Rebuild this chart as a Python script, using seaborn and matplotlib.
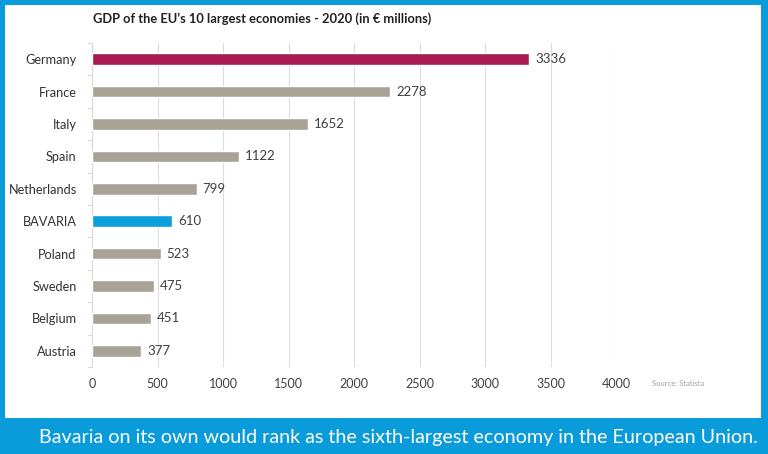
import matplotlib
matplotlib.use("Agg")
import matplotlib.pyplot as plt
import seaborn as sns
import pandas as pd
from matplotlib.patches import Rectangle

countries = ["Germany", "France", "Italy", "Spain", "Netherlands", "BAVARIA",
             "Poland", "Sweden", "Belgium", "Austria"]
gdp = [3336, 2278, 1652, 1122, 799, 610, 523, 475, 451, 377]
bar_colors = ["#A71A52", "#A9A397", "#A9A397", "#A9A397", "#A9A397", "#0B9FDB",
              "#A9A397", "#A9A397", "#A9A397", "#A9A397"]
x_ticks = [0, 500, 1000, 1500, 2000, 2500, 3000, 3500, 4000]
title = "GDP of the EU\u2019s 10 largest economies - 2020 (in \u20ac millions)"
source = "Source: Statista"
caption = "Bavaria on its own would rank as the sixth-largest economy in the European Union."

sns.set_theme(style="white")
plt.rcParams["font.family"] = ["Lato", "DejaVu Sans"]

df = pd.DataFrame({"country": countries, "gdp": gdp})

W, H = 768, 454
fig = plt.figure(figsize=(W / 100, H / 100), dpi=100)
fig.patch.set_facecolor("#0A9BDB")
panel = Rectangle((5 / W, 1 - 418 / H), (761 - 5) / W, (418 - 5) / H,
                  transform=fig.transFigure, facecolor="white",
                  edgecolor="none", zorder=-10)
fig.patches.append(panel)

ax = fig.add_axes([92 / W, 1 - 367 / H, (616 - 92) / W, (367 - 43) / H])
ax.set_facecolor("none")
sns.barplot(data=df, x="gdp", y="country", hue="country", palette=bar_colors,
            legend=False, width=0.36, ax=ax, saturation=1, zorder=3)

n = len(countries)
ax.set_xlim(0, 4000)
ax.set_ylim(n - 0.5, -0.5)
ax.set_xticks(x_ticks)
ax.set_xticklabels([str(t) for t in x_ticks], fontsize=9, color="#404040")
ax.tick_params(axis="x", length=0, pad=8)
ax.tick_params(axis="y", length=0, pad=11, labelsize=9.2)
for lab in ax.get_yticklabels():
    lab.set_color("#333333")
ax.set_xlabel("")
ax.set_ylabel("")
ax.grid(axis="x", color="#DCDCDC", linewidth=0.8, zorder=0)
ax.set_axisbelow(True)
for s in ["top", "right", "bottom"]:
    ax.spines[s].set_visible(False)
ax.spines["left"].set_color("#D9D9D9")
ax.spines["left"].set_linewidth(0.8)

# category separator ticks on the left spine
for i in range(n + 1):
    ax.plot([-30, 0], [i - 0.5, i - 0.5], color="#D9D9D9", lw=0.8,
            clip_on=False, zorder=1)

for i, v in enumerate(gdp):
    ax.text(v + 45, i, str(v), va="center", ha="left", fontsize=9.5, color="#404040")

fig.text(93 / W, 1 - 19 / H, title, fontsize=9.3, fontweight="bold",
         color="#222222", va="center", ha="left")
fig.text(652 / W, 1 - 383 / H, source, fontsize=5.5, color="#A0A0A0",
         va="center", ha="left")
fig.text(398 / W, 1 - 437 / H, caption, fontsize=14.2, color="white",
         va="center", ha="center")

fig.savefig("out.png", dpi=100, facecolor=fig.get_facecolor())
